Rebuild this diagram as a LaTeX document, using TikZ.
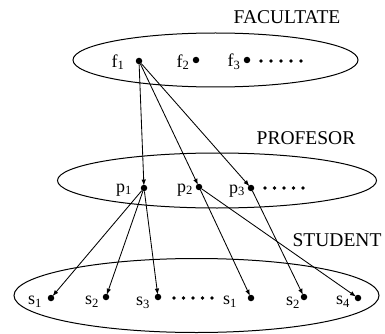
\documentclass[tikz,border=0pt]{standalone}
\usepackage{fontspec}
\setmainfont{Liberation Serif}
\usetikzlibrary{arrows.meta}
\begin{document}
\begin{tikzpicture}[x=1pt,y=-1pt,
  dotn/.style={circle,fill=black,inner sep=0pt,minimum size=6.5pt},
  lbl/.style={inner sep=0pt,font=\fontsize{18}{18}\selectfont},
  title/.style={inner sep=0pt,font=\fontsize{19.5}{19.5}\selectfont},
  setell/.style={draw=black,line width=1pt},
  arr/.style={draw=black,line width=0.85pt,-{Latex[length=6pt,width=4.5pt]},shorten >=-1pt}]
\useasboundingbox (0,0) rectangle (385,334);
% sets
\draw[setell] (215.5,60) ellipse [x radius=142.5, y radius=27];
\draw[setell] (217,180.5) ellipse [x radius=159.5, y radius=27.5];
\draw[setell] (196.5,295.5) ellipse [x radius=182.5, y radius=37];
% titles
\node[title] (tf) at (287,17) {FACULTATE};
\node[title] (tp) at (306,138) {PROFESOR};
\node[title] (ts) at (337,240) {STUDENT};
% facultate
\node[dotn] (f1) at (139,61) {};
\node[dotn] (f2) at (196,60) {};
\node[dotn] (f3) at (247,60) {};
\node[lbl] (lf1) at (118,62) {f\textsubscript{1}};
\node[lbl] (lf2) at (183,62) {f\textsubscript{2}};
\node[lbl] (lf3) at (234,62) {f\textsubscript{3}};
\foreach \i in {0,...,4} \fill (261+10*\i,61) circle (1.8pt);
% profesor
\node[dotn] (p1) at (144,188) {};
\node[dotn] (p2) at (199,187) {};
\node[dotn] (p3) at (251,188) {};
\node[lbl] (lp1) at (124,190) {p\textsubscript{1}};
\node[lbl] (lp2) at (185,190) {p\textsubscript{2}};
\node[lbl] (lp3) at (237,191) {p\textsubscript{3}};
\foreach \i in {0,...,4} \fill (265+9.5*\i,188) circle (1.8pt);
% student
\node[dotn] (s1) at (51,298) {};
\node[dotn] (s2) at (106,297) {};
\node[dotn] (s3) at (158,297) {};
\node[dotn] (s4) at (251,298) {};
\node[dotn] (s5) at (304,297) {};
\node[dotn] (s6) at (358,298) {};
\node[lbl] (ls1) at (35,302) {s\textsubscript{1}};
\node[lbl] (ls2) at (92,302) {s\textsubscript{2}};
\node[lbl] (ls3) at (143,303) {s\textsubscript{3}};
\node[lbl] (ls4) at (230,302) {s\textsubscript{1}};
\node[lbl] (ls5) at (293,303) {s\textsubscript{2}};
\node[lbl] (ls6) at (343,302) {s\textsubscript{4}};
\foreach \i in {0,...,4} \fill (174+9.5*\i,298) circle (1.8pt);
% connectors
\draw[arr] (f1) -- (p1);
\draw[arr] (f1) -- (p2);
\draw[arr] (f1) -- (p3);
\draw[arr] (p1) -- (s1);
\draw[arr] (p1) -- (s2);
\draw[arr] (p1) -- (s3);
\draw[arr] (p2) -- (s4);
\draw[arr] (p2) -- (s6);
\draw[arr] (p3) -- (s5);
\end{tikzpicture}
\end{document}
